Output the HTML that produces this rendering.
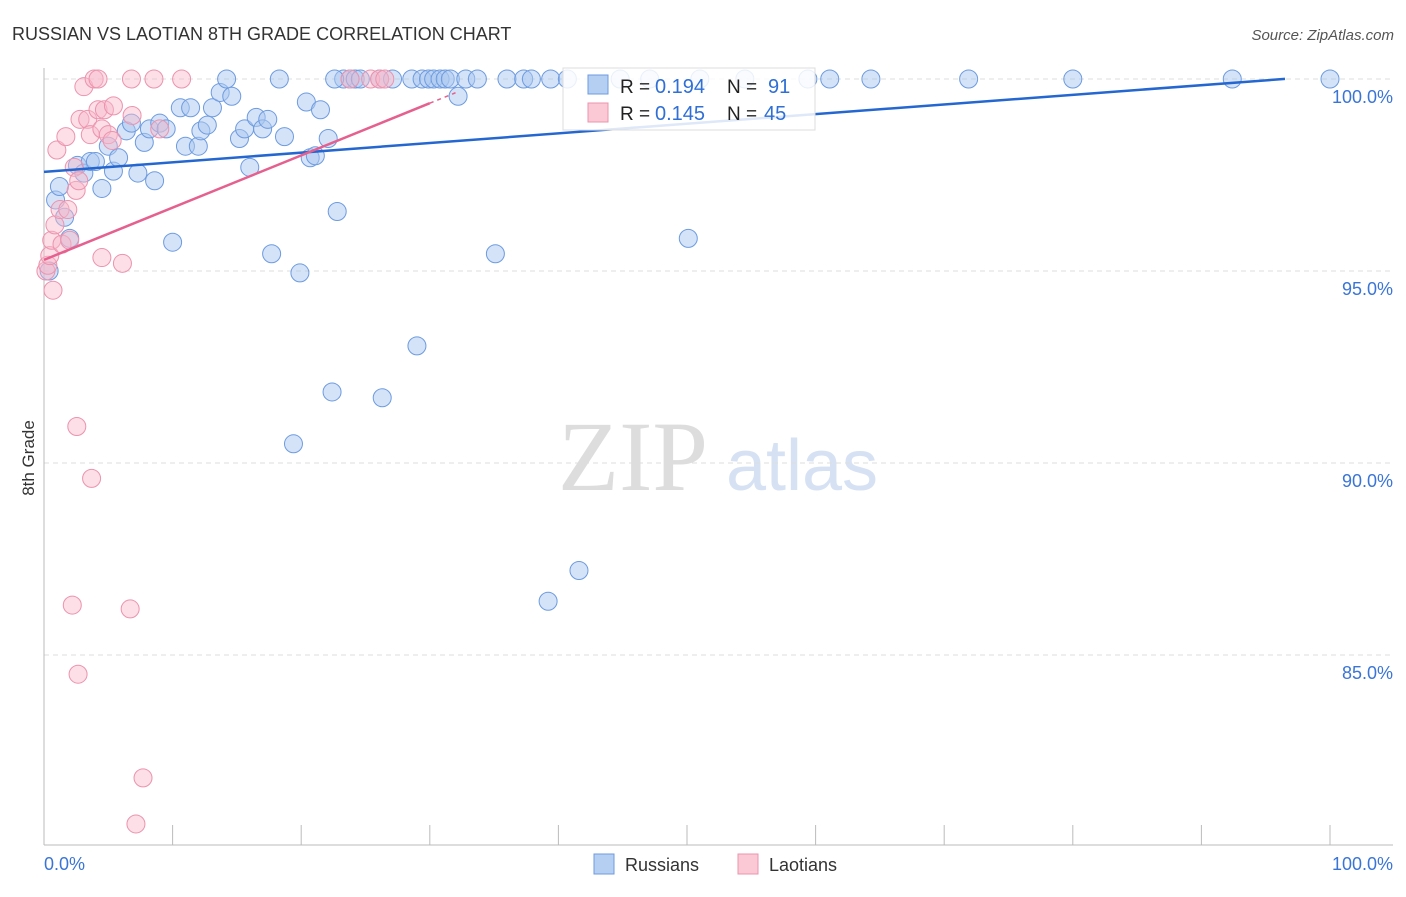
<!DOCTYPE html>
<html><head><meta charset="utf-8"><style>
body{margin:0;background:#fff;font-family:"Liberation Sans",sans-serif}
</style></head><body>
<svg id="c" width="1406" height="892" xmlns="http://www.w3.org/2000/svg" style="font-family:'Liberation Sans',sans-serif">
<text x="12" y="40" font-size="18" fill="#333">RUSSIAN VS LAOTIAN 8TH GRADE CORRELATION CHART</text>
<text x="1394" y="40" font-size="15" fill="#555" text-anchor="end" font-style="italic">Source: ZipAtlas.com</text>
<text x="34" y="458" font-size="17" fill="#333" text-anchor="middle" transform="rotate(-90 34 458)">8th Grade</text>
<g><text x="633" y="490" font-size="100" fill="#ddd" text-anchor="middle" font-family="Liberation Serif,serif">ZIP</text><text x="802" y="490" font-size="72" fill="#d6e2f3" text-anchor="middle">atlas</text></g>
<g id="grid"></g><g id="pts"></g><g id="lines"></g>
<g>
<rect x="563" y="68" width="252" height="62" fill="#fff" fill-opacity="0.85" stroke="#ddd"/>
<rect x="588" y="75" width="20" height="19" fill="#b5cff2" stroke="#6d9be0"/>
<rect x="588" y="103" width="20" height="19" fill="#fbc9d6" stroke="#ec93ae"/>
<text x="620" y="93" font-size="19" fill="#222">R = </text><text x="655" y="93" font-size="20" fill="#2f6fd6">0.194</text>
<text x="727" y="93" font-size="19" fill="#222">N = </text><text x="768" y="93" font-size="20" fill="#2f6fd6">91</text>
<text x="620" y="120" font-size="19" fill="#222">R = </text><text x="655" y="120" font-size="20" fill="#2f6fd6">0.145</text>
<text x="727" y="120" font-size="19" fill="#222">N = </text><text x="764" y="120" font-size="20" fill="#2f6fd6">45</text>
</g>
<g>
<rect x="594" y="854" width="20" height="20" fill="#b5cff2" stroke="#6d9be0"/><text x="625" y="871" font-size="18" fill="#333">Russians</text>
<rect x="738" y="854" width="20" height="20" fill="#fbc9d6" stroke="#ec93ae"/><text x="769" y="871" font-size="18" fill="#333">Laotians</text>
</g>
</svg>
<script>
const yTicks=[100,95,90,85];
const yTickLabels=["100.0%","95.0%","90.0%","85.0%"];
const xTicks=[0,10,20,30,40,50,60,70,80,90,100];
const rusX=[0.4,0.9,1.2,1.6,2.0,2.6,3.1,3.6,4.0,4.5,5.0,5.4,5.8,6.4,6.8,7.3,7.8,8.2,8.6,9.0,9.5,10.0,10.6,11.0,11.4,12.0,12.2,12.7,13.1,13.7,14.2,14.6,15.2,15.6,16.0,16.5,17.0,17.4,18.3,18.7,17.7,19.4,19.9,20.4,20.7,21.1,21.5,22.1,22.4,22.8,23.3,23.8,24.2,24.6,26.1,26.3,27.1,28.6,29.0,29.4,29.9,30.3,30.8,31.2,31.6,32.2,32.8,33.7,35.1,36.0,37.3,37.9,39.2,39.4,40.7,41.6,47.1,50.1,51.0,54.5,59.4,61.1,64.3,71.9,80.0,92.4,100,44.8,22.6];
const rusY=[95.0,96.85,97.2,96.4,95.85,97.75,97.55,97.85,97.85,97.15,98.25,97.6,97.95,98.65,98.85,97.55,98.35,98.7,97.35,98.85,98.7,95.75,99.25,98.25,99.25,98.25,98.65,98.8,99.25,99.65,100,99.55,98.45,98.7,97.7,99.0,98.7,98.95,100,98.5,95.45,90.5,94.95,99.4,97.95,98.0,99.2,98.45,91.85,96.55,100,100,100,100,100,91.7,100,100,93.05,100,100,100,100,100,100,99.55,100,100,95.45,100,100,100,86.4,100,100,87.2,100,95.85,100,100,100,100,100,100,100,100,100,100,100];
const laoX=[0.15,0.3,0.45,0.6,0.7,0.85,1.0,1.25,1.4,1.7,1.85,2.0,2.2,2.35,2.5,2.55,2.65,2.7,2.8,3.1,3.4,3.6,3.7,3.9,4.2,4.2,4.5,4.5,4.7,5.0,5.3,5.4,6.1,6.7,6.8,6.85,7.15,7.7,8.55,9.0,10.7,23.8,25.4,26.1,26.5];
const laoY=[95.0,95.15,95.4,95.8,94.5,96.2,98.15,96.6,95.7,98.5,96.6,95.8,86.3,97.7,97.1,90.95,84.5,97.35,98.95,99.8,98.95,98.55,89.6,100,100,99.2,98.7,95.35,99.2,98.55,98.4,99.3,95.2,86.2,100,99.05,80.6,81.8,100,98.7,100,100,100,100,100];
const rusTrend=[97.58,0.0251,96.5];
const laoTrend=[95.29,0.136,30,32];
const X=v=>44+v*12.86, Y=v=>79+(100-v)*38.4;
const NS="http://www.w3.org/2000/svg";
function mk(t,a,p){const e=document.createElementNS(NS,t);for(const k in a)e.setAttribute(k,a[k]);p.appendChild(e);return e;}
const g=document.getElementById('grid');
yTicks.forEach((t,i)=>{const l=mk('line',{x1:44,x2:1393,y1:Y(t),y2:Y(t),stroke:'#ddd','stroke-dasharray':'5,4'},g);

const tx=mk('text',{x:1393,y:Y(t)+24,'font-size':18,fill:'#3a75d6','text-anchor':'end'},g);tx.textContent=yTickLabels[i];
});
const ax=mk('line',{x1:44,x2:44,y1:68,y2:845,stroke:'#bbb'},g);
const bx=mk('line',{x1:44,x2:1393,y1:845,y2:845,stroke:'#bbb'},g);
xTicks.forEach(t=>{const l=mk('line',{x1:X(t),x2:X(t),y1:825,y2:845,stroke:'#bbb'},g);});
[[0,"0.0%","start",44],[100,"100.0%","end",1393]].forEach(d=>{const tx=mk('text',{x:d[3],y:870,'font-size':18,fill:'#3a75d6','text-anchor':d[2]},g);tx.textContent=d[1];});
const p=document.getElementById('pts');
rusX.forEach((x,i)=>{const c=mk('circle',{cx:X(x),cy:Y(rusY[i]),r:9,fill:'#a9c7f0','fill-opacity':0.5,stroke:'#6d9be0','stroke-width':1},p);});
laoX.forEach((x,i)=>{const c=mk('circle',{cx:X(x),cy:Y(laoY[i]),r:9,fill:'#f8b8ca','fill-opacity':0.45,stroke:'#ec93ae','stroke-width':1},p);});
const L=document.getElementById('lines');
const rl=mk('line',{x1:X(0),y1:Y(rusTrend[0]),x2:X(rusTrend[2]),y2:Y(rusTrend[0]+rusTrend[1]*rusTrend[2]),stroke:'#2467d0','stroke-width':2.5},L);

const ll=mk('line',{x1:X(0),y1:Y(laoTrend[0]),x2:X(laoTrend[2]),y2:Y(laoTrend[0]+laoTrend[1]*laoTrend[2]),stroke:'#e5608e','stroke-width':2.5},L);

const ld=mk('line',{x1:X(laoTrend[2]),y1:Y(laoTrend[0]+laoTrend[1]*laoTrend[2]),x2:X(laoTrend[3]),y2:Y(laoTrend[0]+laoTrend[1]*laoTrend[3]),stroke:'#e5608e','stroke-width':1.5,'stroke-dasharray':'4,4'},L);

</script>
</body></html>
